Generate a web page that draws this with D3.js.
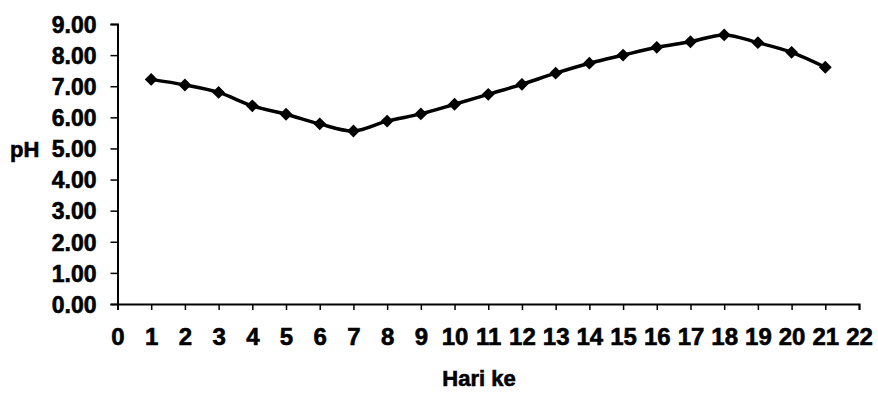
<!DOCTYPE html>
<html>
<head>
<meta charset="utf-8">
<script src="https://cdn.jsdelivr.net/npm/d3@7/dist/d3.min.js"></script>
<style>
  html, body { margin: 0; padding: 0; background: #fff; }
  svg { display: block; }
  text { font-family: "Liberation Sans", Arial, sans-serif; font-weight: bold; fill: #000;
         stroke: #000; stroke-width: 0.6px; }
</style>
</head>
<body>
<svg id="chart" width="878" height="393"></svg>
<script>
// Daily pH readings
const days = [1, 2, 3, 4, 5, 6, 7, 8, 9, 10, 11, 12, 13, 14, 15, 16, 17, 18, 19, 20, 21];
const phValues = [7.22, 7.04, 6.80, 6.37, 6.10, 5.79, 5.56, 5.88, 6.11, 6.42, 6.74,
                  7.06, 7.42, 7.74, 8.00, 8.25, 8.43, 8.65, 8.40, 8.09, 7.61];
const xTicks = d3.range(0, 23);
const yTicks = d3.range(0, 10);
const xTitle = "Hari ke";
const yTitle = "pH";

const svg = d3.select("#chart");

const x = d3.scaleLinear().domain([0, 22]).range([117.5, 859]);
const y = d3.scaleLinear().domain([0, 9]).range([304, 24]);

// y axis
const yAxis = svg.append("g")
  .attr("transform", `translate(${x(0)},0)`)
  .call(d3.axisLeft(y).tickValues(yTicks).tickFormat(d3.format(".2f")).tickSize(7).tickPadding(14));
yAxis.select(".domain").attr("stroke", "#000").attr("stroke-width", 2);
yAxis.selectAll(".tick line").attr("stroke", "#000").attr("stroke-width", 1.5);
yAxis.selectAll(".tick text").style("font-size", "23px").attr("dy", "0.36em");

// x axis
const xAxis = svg.append("g")
  .attr("transform", `translate(0,${y(0)})`)
  .call(d3.axisBottom(x).tickValues(xTicks).tickFormat(d3.format("d")).tickSize(6).tickPadding(18));
xAxis.select(".domain").attr("stroke", "#000").attr("stroke-width", 2);
xAxis.selectAll(".tick line").attr("stroke", "#000").attr("stroke-width", 1.5);
xAxis.selectAll(".tick text").style("font-size", "24px").attr("dy", "0.71em");

// axis titles
svg.append("text")
  .attr("x", 10).attr("y", 157)
  .style("font-size", "22px")
  .text(yTitle);

svg.append("text")
  .attr("x", 479).attr("y", 386)
  .attr("text-anchor", "middle")
  .style("font-size", "22px")
  .text(xTitle);

// smoothed series line
const data = days.map((d, i) => ({ day: d, ph: phValues[i] }));
const line = d3.line()
  .x(d => x(d.day))
  .y(d => y(d.ph))
  .curve(d3.curveCatmullRom.alpha(0.5));

svg.append("path")
  .datum(data)
  .attr("fill", "none")
  .attr("stroke", "#000")
  .attr("stroke-width", 3.5)
  .attr("d", line);

// diamond markers
const diamond = d3.symbol().type(d3.symbolDiamond2).size(105);
svg.append("g")
  .selectAll("path")
  .data(data)
  .join("path")
  .attr("transform", d => `translate(${x(d.day)},${y(d.ph)})`)
  .attr("d", diamond)
  .attr("fill", "#000");
</script>
</body>
</html>
